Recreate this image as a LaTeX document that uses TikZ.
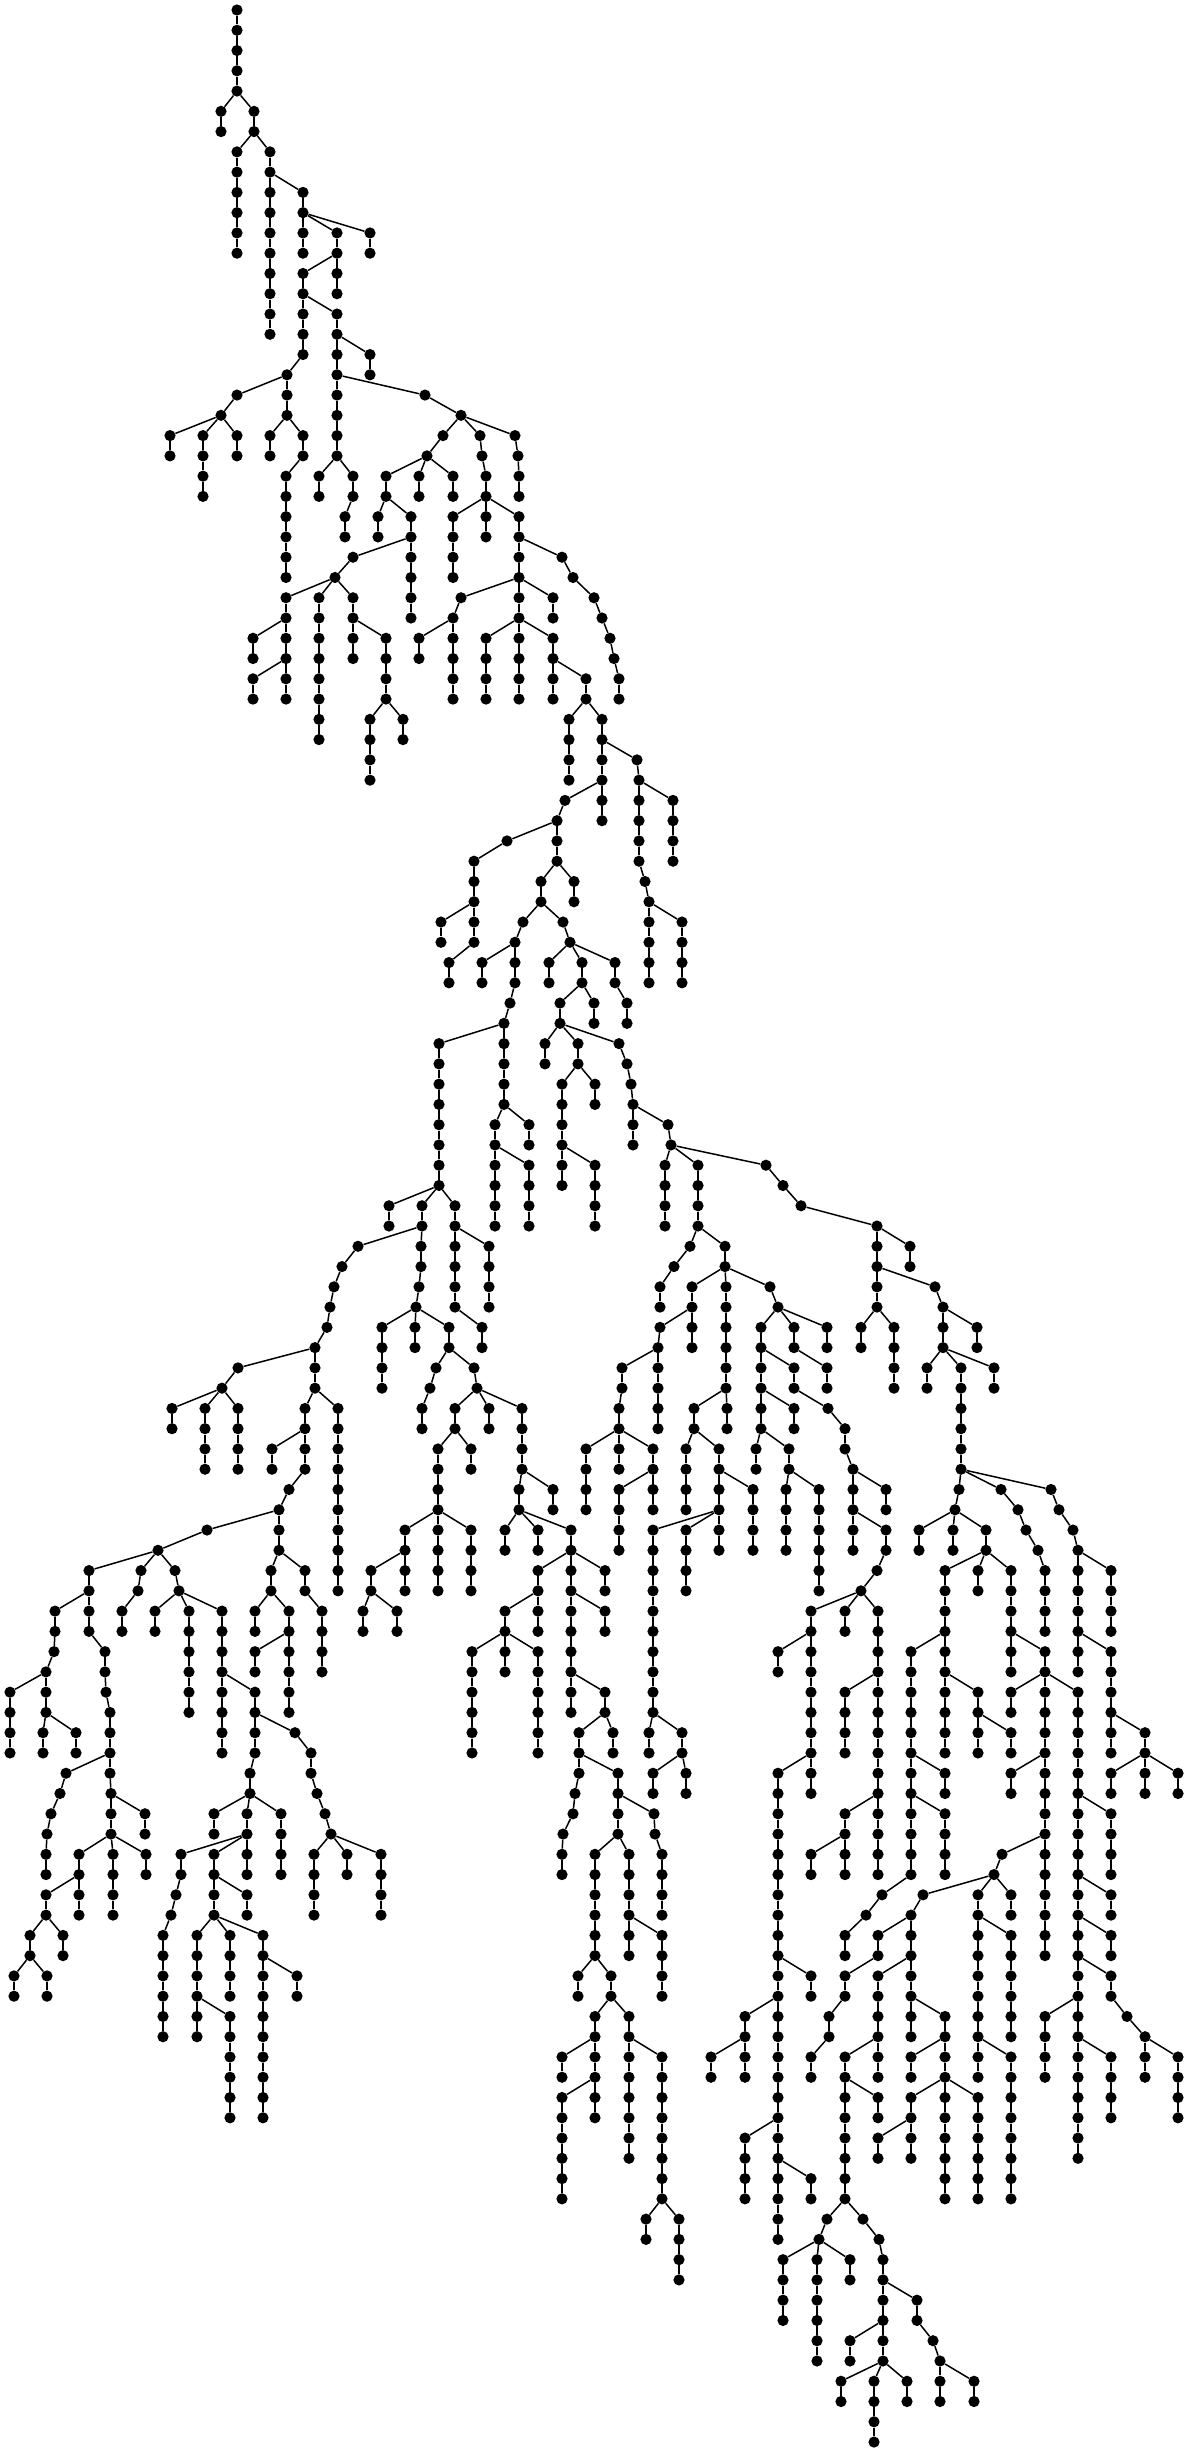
\documentclass[tikz,border=0pt]{standalone}
\newcount\lv
\tikzset{dot/.style={circle,fill=black,draw=none,inner sep=0pt,minimum size=11.2pt},
lnk/.style={line width=1.5pt,black}}
\newcommand{\Br}[3]{%
  \global\lv=#2\relax
  \xdef\prevn{n#1-#2}%
  \foreach \x/\n in {#3}{%
    \ifnum\n=\x\relax\gdef\rep{1}\else\xdef\rep{\n}\fi
    \foreach \i in {1,...,\rep}{%
      \global\advance\lv by 1\relax
      \node[dot] (n\x-\the\lv) at (\x,{-(10+20.267*\the\lv)}) {};
      \draw[lnk] (\prevn) -- (n\x-\the\lv);
      \xdef\prevn{n\x-\the\lv}%
    }%
  }%
}
\begin{document}
\begin{tikzpicture}[x=1pt,y=1pt]
\fill[white] (0,0) rectangle (1188,-2452);
\useasboundingbox (0,0) rectangle (1188,-2452);
\node[dot] (n237-0) at (237,-10) {};
\Br{237}{0}{237/4}
\Br{237}{4}{221/2}
\Br{237}{4}{254/2}
\Br{254}{6}{237/6}
\Br{254}{6}{270/10}
\Br{270}{8}{303/2}
\Br{303}{10}{303/2}
\Br{303}{10}{337/2}
\Br{303}{10}{370/2}
\Br{337}{12}{337/2}
\Br{337}{12}{303/5}
\Br{303}{14}{337/8}
\Br{337}{16}{370/2}
\Br{303}{17}{287/3}
\Br{287}{18}{237,221}
\Br{337}{18}{425,461}
\Br{221}{20}{170/2}
\Br{221}{20}{203/4}
\Br{221}{20}{237/2}
\Br{287}{20}{270/2}
\Br{287}{20}{303/2,286/6}
\Br{337}{22}{319/2}
\Br{337}{22}{353/2,345/2}
\Br{461}{20}{443,427}
\Br{427}{22}{386/2}
\Br{427}{22}{419/2}
\Br{427}{22}{453/2}
\Br{386}{24}{378/2}
\Br{386}{24}{411/6}
\Br{411}{26}{353,335}
\Br{335}{28}{286/6}
\Br{286}{30}{253/2}
\Br{286}{32}{253/2}
\Br{335}{28}{319/8}
\Br{335}{28}{353/4}
\Br{353}{30}{386/4}
\Br{386}{34}{370/4}
\Br{386}{34}{403/2}
\Br{461}{20}{480,482,486/2}
\Br{486}{24}{453/4}
\Br{486}{24}{486/2}
\Br{486}{24}{519/4}
\Br{461}{20}{515,518,519/2}
\Br{519}{26}{562,573,594,602,610,614,619/2}
\Br{519}{28}{461,453}
\Br{453}{30}{419/2}
\Br{453}{30}{453/4}
\Br{519}{28}{519/6}
\Br{519}{30}{486/4}
\Br{519}{28}{553/2}
\Br{519}{30}{553/4}
\Br{553}{32}{586/2}
\Br{586}{34}{569/4}
\Br{586}{34}{602/6}
\Br{602}{36}{637,639/5,645,649}
\Br{649}{44}{649/4}
\Br{649}{44}{682/4}
\Br{639}{38}{673/4}
\Br{602}{38}{565,557/3}
\Br{557}{40}{507,474/3}
\Br{474}{44}{441/2}
\Br{474}{44}{474/2,449/2}
\Br{557}{42}{574/2}
\Br{557}{42}{541/2}
\Br{541}{44}{523,515/3,510,504}
\Br{515}{46}{482/2}
\Br{504}{50}{439/8}
\Br{504}{50}{504/4}
\Br{504}{54}{495/6}
\Br{504}{54}{529/2}
\Br{495}{56}{529/4}
\Br{541}{44}{563,570}
\Br{570}{46}{549/2}
\Br{570}{46}{582/2}
\Br{582}{48}{560/2}
\Br{582}{48}{594/2}
\Br{560}{50}{545/2}
\Br{560}{50}{578/2}
\Br{578}{52}{562/4}
\Br{578}{52}{595/2}
\Br{562}{56}{562/2}
\Br{562}{56}{595/4}
\Br{570}{46}{615/2,627/2}
\Br{560}{50}{619,627,631,633}
\Br{633}{54}{633/2}
\Br{633}{54}{668,671}
\Br{671}{56}{665/4}
\Br{671}{56}{698/4}
\Br{671}{56}{766,783,801,877}
\Br{439}{58}{389/2}
\Br{439}{58}{422/2}
\Br{439}{58}{455/6}
\Br{455}{60}{489/4}
\Br{455}{64}{482/2}
\Br{422}{60}{421/2,419,416}
\Br{416}{64}{382/4}
\Br{416}{64}{415/2}
\Br{416}{64}{449/2}
\Br{449}{66}{436,430,422/2}
\Br{449}{66}{474,477}
\Br{477}{68}{455/2}
\Br{477}{68}{489/2}
\Br{477}{68}{522/4}
\Br{455}{70}{438/4}
\Br{455}{70}{471/2}
\Br{438}{74}{405/2}
\Br{405}{76}{371/2}
\Br{371}{78}{363/2}
\Br{371}{78}{397/2}
\Br{405}{76}{405/2}
\Br{438}{74}{438/4}
\Br{438}{74}{471/4}
\Br{522}{72}{519/2}
\Br{522}{72}{553/2}
\Br{519}{74}{505/2}
\Br{519}{74}{538/2}
\Br{519}{74}{571/2}
\Br{571}{76}{538/2}
\Br{538}{78}{505/2}
\Br{538}{78}{538/2}
\Br{505}{80}{472/6}
\Br{505}{80}{505/2}
\Br{505}{80}{538/6}
\Br{571}{76}{571/6}
\Br{571}{76}{605/2}
\Br{571}{78}{605/2}
\Br{571}{82}{571/2}
\Br{571}{82}{605/2}
\Br{605}{84}{579/2}
\Br{605}{84}{613/2}
\Br{579}{86}{579,575,573,563,562/2}
\Br{579}{86}{618/2}
\Br{618}{88}{654,655,662/4}
\Br{618}{88}{618/2}
\Br{618}{90}{595/6}
\Br{618}{90}{629/6}
\Br{629}{94}{662/4}
\Br{595}{96}{578/2}
\Br{595}{96}{611/2}
\Br{611}{98}{595/2}
\Br{595}{100}{562/2}
\Br{595}{100}{595/2}
\Br{595}{102}{562/6}
\Br{595}{102}{595/2}
\Br{611}{98}{629/2}
\Br{629}{100}{629/6}
\Br{629}{100}{662/8}
\Br{662}{108}{646/2}
\Br{662}{108}{679/4}
\Br{422}{60}{358,342,334,330,327,315}
\Br{315}{66}{238,222}
\Br{222}{68}{172/2}
\Br{222}{68}{205/4}
\Br{222}{68}{238/4}
\Br{315}{66}{315/2}
\Br{315}{68}{305/4}
\Br{305}{70}{272/2}
\Br{305}{72}{289,279/3}
\Br{315}{68}{338/10}
\Br{279}{74}{207,158}
\Br{279}{76}{271/2}
\Br{271}{78}{255/2}
\Br{271}{78}{289/6}
\Br{289}{80}{255/2}
\Br{279}{76}{305/2,322/4}
\Br{158}{76}{89/2}
\Br{89}{78}{55/2,54,46}
\Br{46}{82}{10/4}
\Br{46}{82}{46/2}
\Br{46}{84}{43/2}
\Br{46}{84}{76/2}
\Br{89}{78}{89/2,105/2,106,110/3}
\Br{110}{86}{66,60,51,47,46/2}
\Br{110}{86}{110,111}
\Br{111}{88}{111/2}
\Br{111}{88}{145/2}
\Br{111}{90}{79/2}
\Br{111}{90}{113/4}
\Br{111}{90}{146/2}
\Br{79}{92}{46/2}
\Br{79}{92}{79/2}
\Br{46}{94}{30/2}
\Br{46}{94}{63/2}
\Br{30}{96}{14/2}
\Br{30}{96}{47/2}
\Br{158}{76}{141,138,122/2}
\Br{158}{76}{175,179}
\Br{179}{78}{155/2}
\Br{179}{78}{189/6}
\Br{179}{78}{222/8}
\Br{222}{82}{255/2}
\Br{255}{84}{255/2,250/2}
\Br{255}{84}{295,311/2,317,325,331}
\Br{331}{90}{314/4}
\Br{331}{90}{347/2}
\Br{331}{90}{381/4}
\Br{250}{88}{214/2}
\Br{250}{88}{247/2}
\Br{250}{88}{281/4}
\Br{247}{90}{181/2,176,171,163/6}
\Br{247}{90}{214/4}
\Br{247}{90}{247/2}
\Br{214}{92}{247/2}
\Br{214}{94}{197/6}
\Br{214}{94}{230/4}
\Br{214}{94}{263/10}
\Br{197}{98}{230/6}
\Br{263}{96}{297/2}
\Br{698}{60}{690,674,660/2}
\Br{698}{60}{725/2}
\Br{725}{62}{692/2}
\Br{692}{64}{660,658}
\Br{658}{66}{622/2,619/2}
\Br{658}{66}{658/4}
\Br{619}{70}{586/4}
\Br{619}{70}{619/2}
\Br{619}{70}{653/4}
\Br{653}{72}{619/4}
\Br{692}{64}{692/2}
\Br{725}{62}{726/6}
\Br{726}{68}{694/2}
\Br{726}{68}{727/2}
\Br{694}{70}{686/4}
\Br{694}{70}{719/4}
\Br{719}{74}{653/10}
\Br{719}{74}{686/4}
\Br{719}{74}{719/2}
\Br{719}{72}{753/4}
\Br{653}{84}{649/2}
\Br{653}{84}{682/2}
\Br{682}{86}{653/2}
\Br{682}{86}{686/2}
\Br{725}{62}{770,778}
\Br{778}{64}{761/6}
\Br{761}{66}{794/2}
\Br{761}{68}{794/2}
\Br{778}{64}{794/2}
\Br{794}{66}{827/2}
\Br{778}{64}{827/2}
\Br{761}{70}{756/2}
\Br{761}{70}{789/2}
\Br{789}{72}{786/4}
\Br{789}{72}{819/6}
\Br{794}{68}{828,845/2,853/3}
\Br{853}{72}{886/2}
\Br{853}{74}{853/2}
\Br{853}{74}{886/2,877,861}
\Br{861}{78}{845/2}
\Br{861}{78}{811/10}
\Br{811}{80}{778/2}
\Br{811}{86}{778/24}
\Br{778}{96}{811/2}
\Br{778}{98}{745/2}
\Br{745}{100}{711/2}
\Br{745}{100}{745/2}
\Br{778}{104}{745/4}
\Br{778}{106}{811/2}
\Br{861}{78}{878/14}
\Br{878}{82}{845/4}
\Br{878}{88}{845/4}
\Br{845}{90}{811/2}
\Br{877}{60}{877/4}
\Br{877}{60}{910/2}
\Br{877}{62}{935,943/3}
\Br{877}{64}{861/2}
\Br{877}{64}{894/4}
\Br{943}{64}{977/2}
\Br{943}{66}{927/2}
\Br{943}{66}{961/6}
\Br{943}{66}{994/2}
\Br{961}{72}{959,955}
\Br{955}{74}{919/2}
\Br{955}{74}{953/2}
\Br{955}{74}{986/2}
\Br{986}{76}{945/4}
\Br{986}{76}{978/2}
\Br{986}{76}{1011/6}
\Br{945}{80}{911/12}
\Br{945}{80}{945/6}
\Br{945}{82}{978/2}
\Br{978}{84}{978/2}
\Br{978}{84}{1011/2}
\Br{911}{86}{945/2}
\Br{911}{88}{945/4}
\Br{911}{92}{882,866,845/2}
\Br{1011}{80}{1045/2}
\Br{1045}{82}{1011/2}
\Br{1045}{82}{1045/14}
\Br{1045}{82}{1078/24}
\Br{1045}{86}{1011/2}
\Br{1045}{90}{1002,994}
\Br{994}{92}{923,911/7}
\Br{994}{92}{978/10}
\Br{994}{92}{1011/2}
\Br{978}{94}{1011/6}
\Br{978}{100}{1011/8}
\Br{911}{94}{878/2}
\Br{878}{96}{845/2,829/2,811/2}
\Br{911}{96}{878/6}
\Br{878}{100}{845/8}
\Br{845}{102}{878/2}
\Br{911}{98}{945/4}
\Br{945}{100}{911/2}
\Br{945}{102}{911/2}
\Br{911}{104}{878/2}
\Br{911}{104}{911/2}
\Br{945}{102}{945/6}
\Br{945}{102}{978/6}
\Br{845}{108}{827,819}
\Br{819}{110}{783/4}
\Br{819}{110}{817/6}
\Br{819}{110}{850/2}
\Br{845}{108}{863,879,883/2}
\Br{883}{112}{883/2}
\Br{883}{112}{917/2,933,940}
\Br{940}{116}{940/2}
\Br{940}{116}{974/2}
\Br{883}{114}{850/2}
\Br{883}{114}{883/2}
\Br{883}{116}{841/2}
\Br{883}{116}{874/4}
\Br{883}{116}{907/2}
\Br{961}{72}{1001,1018,1026,1038,1045/4}
\Br{961}{72}{1051,1059,1073,1078}
\Br{1078}{76}{1078/6}
\Br{1078}{76}{1111/4}
\Br{1078}{80}{1111/4}
\Br{1111}{84}{1111/2}
\Br{1111}{84}{1145/2}
\Br{1145}{86}{1111/2}
\Br{1145}{86}{1145/2}
\Br{1145}{86}{1178/2}
\Br{1078}{88}{1111/4}
\Br{1078}{92}{1111/2}
\Br{1078}{94}{1111/2}
\Br{1078}{96}{1111/2,1127,1145}
\Br{1145}{100}{1145/2}
\Br{1145}{100}{1178/4}
\Br{1078}{98}{1045/4}
\Br{1078}{100}{1111/4}
\end{tikzpicture}
\end{document}
